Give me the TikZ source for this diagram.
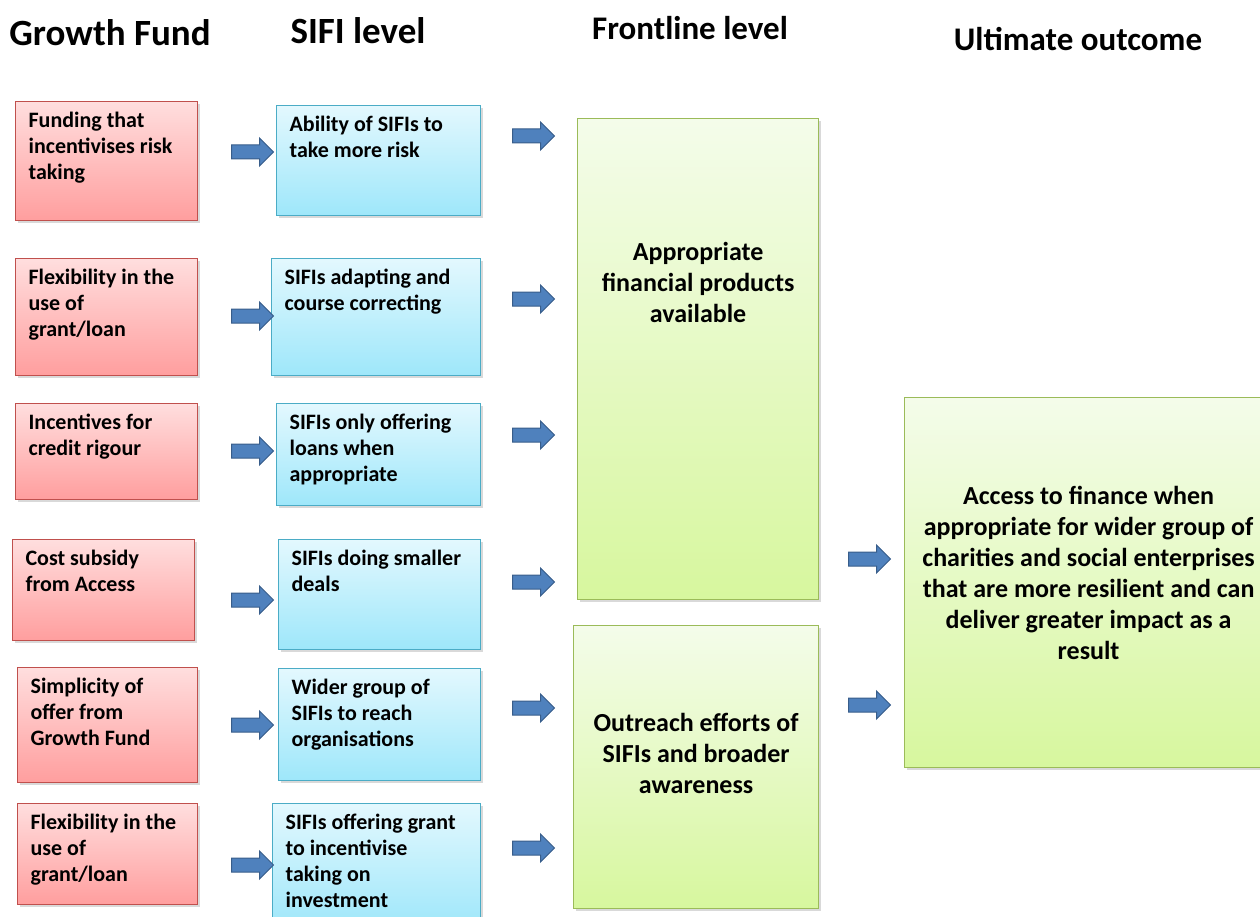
\documentclass[tikz,border=0pt]{standalone}
\usepackage{fontspec}
\setmainfont{Carlito}
\usetikzlibrary{shapes.arrows, shadows}

\definecolor{fundtop}{HTML}{FFDEDE}
\definecolor{fundbot}{HTML}{FF9E9E}
\definecolor{fundline}{HTML}{C0504D}
\definecolor{sifitop}{HTML}{E3F8FE}
\definecolor{sifibot}{HTML}{9EE7FA}
\definecolor{sifiline}{HTML}{4BACC6}
\definecolor{fronttop}{HTML}{F4FCEA}
\definecolor{frontbot}{HTML}{D7F79E}
\definecolor{frontline}{HTML}{9BBB59}
\definecolor{arrowfill}{HTML}{4F81BD}
\definecolor{arrowline}{HTML}{385D8A}

% width, height (in pt, outer size of the box), inner position, text
\newcommand{\celltext}[4]{\parbox[c][\dimexpr#2pt-20pt][#3]{\dimexpr#1pt-26pt}{#4}}

\begin{document}
\begin{tikzpicture}[
    x=1pt, y=-1pt,
    box/.style={rectangle, anchor=north west, inner xsep=13pt, inner ysep=10pt, line width=1.2pt, font=\fontsize{22}{26}\selectfont\bfseries, drop shadow={shadow xshift=2pt, shadow yshift=-2.5pt, opacity=0.3}},
    fundbox/.style={box, draw=fundline, top color=fundtop, bottom color=fundbot},
    sifibox/.style={box, draw=sifiline, top color=sifitop, bottom color=sifibot},
    frontbox/.style={box, draw=frontline, top color=fronttop, bottom color=frontbot, font=\fontsize{26}{31}\selectfont\bfseries},
    barrow/.style={single arrow, draw=arrowline, fill=arrowfill, line width=1pt, minimum width=27pt, minimum height=42pt, single arrow head extend=7pt, inner xsep=0pt, inner ysep=6.5pt},
    head/.style={font=\fontsize{37}{40}\selectfont\bfseries}
]
\useasboundingbox (0,0) rectangle (1260,917);
\clip (0,0) rectangle (1260,917);

% Headings
\node[head] (hfund) at (110,33) {Growth Fund};
\node[head] (hsifi) at (358,31) {SIFI level};
\node[head, font=\fontsize{33}{36}\selectfont\bfseries] (hfront) at (690,28) {Frontline level};
\node[head, font=\fontsize{33}{36}\selectfont\bfseries] (hout) at (1078,39) {Ultimate outcome};

% Growth Fund
\node[fundbox] (fund1) at (15,101) {\celltext{182}{119}{t}{Funding that\\incentivises risk\\taking}};
\node[fundbox] (fund2) at (15,258) {\celltext{182}{117}{t}{Flexibility in the\\use of\\grant/loan}};
\node[fundbox] (fund3) at (15,403) {\celltext{182}{96}{t}{Incentives for\\credit rigour}};
\node[fundbox] (fund4) at (12,539) {\celltext{182}{101}{t}{Cost subsidy\\from Access}};
\node[fundbox] (fund5) at (17,667) {\celltext{180}{115}{t}{Simplicity of\\offer from\\Growth Fund}};
\node[fundbox] (fund6) at (17,803) {\celltext{180}{101}{t}{Flexibility in the\\use of\\grant/loan}};

% SIFI level
\node[sifibox] (sifi1) at (276,105) {\celltext{204}{110}{t}{Ability of SIFIs to\\take more risk}};
\node[sifibox] (sifi2) at (271,258) {\celltext{209}{117}{t}{SIFIs adapting and\\course correcting}};
\node[sifibox] (sifi3) at (276,403) {\celltext{204}{102}{t}{SIFIs only offering\\loans when\\appropriate}};
\node[sifibox] (sifi4) at (278,539) {\celltext{202}{110}{t}{SIFIs doing smaller\\deals}};
\node[sifibox] (sifi5) at (278,668) {\celltext{202}{112}{t}{Wider group of\\SIFIs to reach\\organisations}};
\node[sifibox] (sifi6) at (272,803) {\celltext{208}{125}{t}{SIFIs offering grant\\to incentivise\\taking on\\investment}};

% Frontline level
\node[frontbox] (front1) at (577,118) {\celltext{241}{481}{t}{\centering\vspace*{114pt}Appropriate\\financial products\\available\par}};
\node[frontbox] (front2) at (573,625) {\celltext{245}{283}{c}{\centering Outreach efforts of\\SIFIs and broader\\awareness\\[28pt]\par}};

% Ultimate outcome
\node[frontbox] (outcome) at (904,397) {\celltext{368}{370}{c}{\centering Access to finance when\\appropriate for wider group of\\charities and social enterprises\\that are more resilient and can\\deliver greater impact as a\\result\\[20pt]\par}};

% Arrows into SIFI level
\foreach \y [count=\i] in {152,316,451,600,725,865}
    \node[barrow] (fa\i) at (249,\y) {};

% Arrows into frontline level
\foreach \y [count=\i] in {136,299,435,582,708,848}
    \node[barrow] (sa\i) at (530,\y) {};

% Arrows into outcome
\node[barrow] (oa1) at (866,559) {};
\node[barrow] (oa2) at (866,705) {};

\end{tikzpicture}
\end{document}
